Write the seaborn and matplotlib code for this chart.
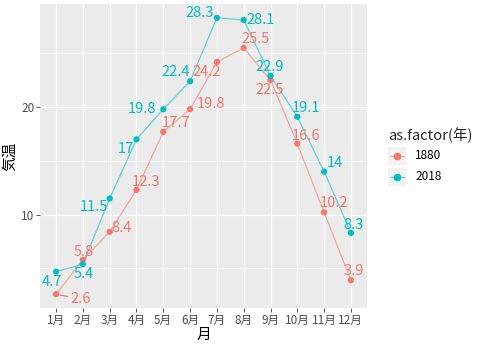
import matplotlib
matplotlib.use("Agg")
import matplotlib.pyplot as plt
from matplotlib.lines import Line2D
from matplotlib.patches import Rectangle
import seaborn as sns
import pandas as pd

months = ["1月", "2月", "3月", "4月", "5月", "6月", "7月", "8月", "9月", "10月", "11月", "12月"]
years = ["1880", "2018"]
temp_1880 = [2.6, 5.8, 8.4, 12.3, 17.7, 19.8, 24.2, 25.5, 22.5, 16.6, 10.2, 3.9]
temp_2018 = [4.7, 5.4, 11.5, 17.0, 19.8, 22.4, 28.3, 28.1, 22.9, 19.1, 14.0, 8.3]
label_1880 = ["2.6", "5.8", "8.4", "12.3", "17.7", "19.8", "24.2", "25.5", "22.5", "16.6", "10.2", "3.9"]
label_2018 = ["4.7", "5.4", "11.5", "17", "19.8", "22.4", "28.3", "28.1", "22.9", "19.1", "14", "8.3"]

# label offsets (pixels) keeping the text clear of the lines
offs_1880 = [(25, -5), (1, 8), (12, 4), (10, 8), (13, 9), (21, 5), (-10, -10), (12, 9),
             (-1, -10), (9, 8), (10, 9), (3, 9)]
offs_2018 = [(-4, -10), (1, -10), (-16, -9), (-11, -10), (-21, 0), (-14, 9), (-17, 5),
             (17, 0), (-1, 9), (9, 9), (11, 9), (3, 8)]

palette = {"1880": "#F8766D", "2018": "#00BFC4"}

df = pd.DataFrame({
    "月": list(range(1, 13)) * 2,
    "気温": temp_1880 + temp_2018,
    "年": [years[0]] * 12 + [years[1]] * 12,
})

sns.set_theme(style="darkgrid")
plt.rcParams["font.family"] = ["Noto Sans CJK JP", "DejaVu Sans"]

DPI = 96
W, H = 480, 344
fig = plt.figure(figsize=(W / DPI, H / DPI), dpi=DPI)
ax = fig.add_axes([40 / W, 1 - 308 / H, 327 / W, 304 / H])
ax.set_facecolor("#EBEBEB")

sns.lineplot(data=df, x="月", y="気温", hue="年", palette=palette, ax=ax,
             linewidth=0.9, alpha=0.6, legend=False, zorder=3)
sns.scatterplot(data=df, x="月", y="気温", hue="年", palette=palette, ax=ax,
                s=22, linewidth=0, legend=False, zorder=4)

for yr, vals, labs, offs in [("1880", temp_1880, label_1880, offs_1880),
                              ("2018", temp_2018, label_2018, offs_2018)]:
    for i, (v, t, o) in enumerate(zip(vals, labs, offs)):
        arrow = None
        if yr == "1880" and i == 0:
            arrow = dict(arrowstyle="-", color=palette[yr], lw=0.9, shrinkA=10, shrinkB=3)
        ax.annotate(t, (i + 1, v), xytext=o, textcoords="offset pixels",
                    ha="center", va="center", fontsize=11, color=palette[yr],
                    arrowprops=arrow, zorder=5)

ax.set_xlim(0.4, 12.6)
ax.set_ylim(1.315, 29.585)
ax.set_xticks(range(1, 13))
ax.set_xticklabels(months)
ax.set_yticks([10, 20])
ax.set_yticks([5, 15, 25], minor=True)
ax.grid(which="major", color="white", linewidth=0.9)
ax.grid(which="minor", axis="y", color="white", linewidth=0.45)
ax.tick_params(axis="both", which="major", length=2.75, width=0.6, color="#333333",
               labelsize=8.8, labelcolor="#4D4D4D", pad=1.5, bottom=True, left=True)
ax.tick_params(axis="y", which="minor", length=0)
for s in ax.spines.values():
    s.set_visible(False)
ax.set_xlabel("月", fontsize=11, color="black", labelpad=1)
ax.set_ylabel("気温", fontsize=11, color="black", labelpad=3)

# legend drawn in figure coordinates, ggplot style
fig.text(388 / W, 1 - 135 / H, "as.factor(年)", fontsize=11, ha="left", va="center")
for k, yr in enumerate(years):
    y0 = 147 + k * 21
    fig.add_artist(Rectangle((388 / W, 1 - (y0 + 18) / H), 18 / W, 18 / H,
                             transform=fig.transFigure, facecolor="#F2F2F2",
                             edgecolor="none"))
    cy = 1 - (y0 + 9) / H
    fig.add_artist(Line2D([390 / W, 404 / W], [cy, cy], transform=fig.transFigure,
                          color=palette[yr], alpha=0.6, linewidth=0.9))
    fig.add_artist(Line2D([397 / W], [cy], transform=fig.transFigure, marker="o",
                          markersize=4.7, color=palette[yr], linestyle="none"))
    fig.text(415 / W, cy, yr, fontsize=8.8, ha="left", va="center", color="black")

fig.savefig("out.png", dpi=DPI)
